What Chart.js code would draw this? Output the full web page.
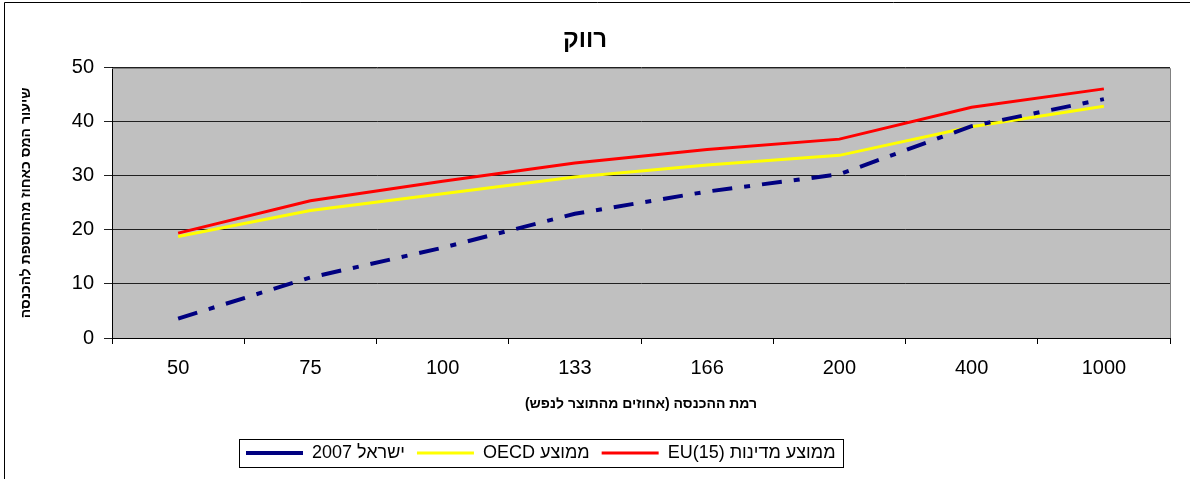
<!DOCTYPE html>
<html>
<head>
<meta charset="utf-8">
<script src="https://cdn.jsdelivr.net/npm/chart.js@4.4.1/dist/chart.umd.min.js"></script>
<style>
  body { margin: 0; background: #fff; }
  #wrap { width: 1190px; height: 479px; }
</style>
</head>
<body>
<div id="wrap"><canvas id="chart" width="1190" height="479"></canvas></div>
<script>
// income levels (% of GDP per capita)
var categories = ['50', '75', '100', '133', '166', '200', '400', '1000'];

var israel2007 = [3.6, 11.2, 16.7, 23.0, 27.1, 30.3, 39.2, 44.2];
var oecdAvg = [18.8, 23.6, 26.7, 29.8, 32.0, 33.8, 39.1, 42.9];
var eu15Avg = [19.4, 25.4, 29.0, 32.4, 34.9, 36.8, 42.7, 46.1];

var seriesNames = ['ישראל 2007', 'ממוצע OECD', 'ממוצע מדינות \u2066EU(15)\u2069'];
var yTicks = [0, 10, 20, 30, 40, 50];

var FONT = "'Liberation Sans', Arial, sans-serif";
var RLM = '\u200F';

var plotBg = {
    id: 'plotBg',
    beforeDraw: function (chart) {
        var a = chart.chartArea, ctx = chart.ctx;
        ctx.save();
        ctx.fillStyle = '#ffffff';
        ctx.fillRect(0, 0, chart.width, chart.height);
        ctx.fillStyle = '#c0c0c0';
        ctx.fillRect(a.left, a.top, a.right - a.left, a.bottom - a.top);
        // outer frame
        ctx.strokeStyle = '#000';
        ctx.lineWidth = 1;
        ctx.beginPath();
        ctx.moveTo(4.5, chart.height);
        ctx.lineTo(4.5, 2.5);
        ctx.lineTo(chart.width, 2.5);
        ctx.stroke();
        ctx.restore();
    },
    afterLayout: function (chart) {
        // move legend to the left like the original
        chart.legend.left = 234;
    },
    afterDraw: function (chart) {
        var a = chart.chartArea, ctx = chart.ctx;
        ctx.save();
        ctx.strokeStyle = '#808080';
        ctx.lineWidth = 1;
        ctx.beginPath();
        ctx.moveTo(a.left, Math.round(a.top) + 0.5);
        ctx.lineTo(Math.round(a.right) + 0.5, Math.round(a.top) + 0.5);
        ctx.lineTo(Math.round(a.right) + 0.5, a.bottom);
        ctx.stroke();
        // legend frame
        var lg = chart.legend;
        var pad = lg.options.labels.padding;
        var x0 = lg.left + pad - 7;
        var x1 = lg.left + lg.lineWidths[0] + 8;
        var cy = lg.top + pad + 9;
        ctx.strokeStyle = '#000';
        ctx.strokeRect(Math.round(x0) + 0.5, Math.round(cy - 14) + 0.5, Math.round(x1 - x0), 28);
        ctx.restore();
    }
};

new Chart(document.getElementById('chart'), {
    type: 'line',
    data: {
        labels: categories,
        datasets: [{
            label: seriesNames[0],
            data: israel2007,
            borderColor: '#000080',
            backgroundColor: '#000080',
            borderWidth: 4,
            borderDash: [20, 12, 6, 12],
            pointRadius: 0,
            fill: false
        }, {
            label: seriesNames[1],
            data: oecdAvg,
            borderColor: '#ffff00',
            backgroundColor: '#ffff00',
            borderWidth: 3,
            pointRadius: 0,
            fill: false
        }, {
            label: seriesNames[2],
            data: eu15Avg,
            borderColor: '#ff0000',
            backgroundColor: '#ff0000',
            borderWidth: 3,
            pointRadius: 0,
            fill: false
        }]
    },
    options: {
        responsive: false,
        animation: false,
        layout: { padding: { top: 0, left: 0, right: 20, bottom: 7 } },
        plugins: {
            title: {
                display: true,
                text: 'רווק',
                color: '#000',
                font: { family: FONT, size: 24, weight: 'bold' },
                padding: { top: 26, bottom: 13 }
            },
            legend: {
                position: 'bottom',
                align: 'start',
                textDirection: 'rtl',
                labels: {
                    color: '#000',
                    font: { family: FONT, size: 18 },
                    usePointStyle: true,
                    pointStyle: 'line',
                    pointStyleWidth: 57,
                    padding: 12
                }
            },
            tooltip: { enabled: false }
        },
        scales: {
            x: {
                offset: true,
                afterFit: function (s) { s.height = 94; },
                grid: {
                    offset: true,
                    drawOnChartArea: false,
                    drawTicks: true,
                    tickLength: 6,
                    color: '#000'
                },
                border: { color: '#000', width: 1 },
                ticks: {
                    color: '#000',
                    font: { family: FONT, size: 20 },
                    padding: 12,
                    maxRotation: 0
                },
                title: {
                    display: true,
                    text: RLM + 'רמת ההכנסה (אחוזים מהתוצר לנפש)' + RLM,
                    color: '#000',
                    font: { family: FONT, size: 14, weight: 'bold' },
                    padding: { top: 0, bottom: 19 }
                }
            },
            y: {
                min: yTicks[0],
                max: yTicks[yTicks.length - 1],
                afterFit: function (s) { s.width = 112; },
                afterBuildTicks: function (s) {
                    s.ticks = yTicks.map(function (v) { return { value: v }; });
                },
                grid: {
                    color: '#202020',
                    lineWidth: 1,
                    tickLength: 8,
                    drawTicks: true
                },
                border: { color: '#000', width: 1 },
                ticks: {
                    color: '#000',
                    font: { family: FONT, size: 20 },
                    padding: 10
                },
                title: {
                    display: true,
                    text: 'שיעור המס כאחוז מהתוספת להכנסה',
                    color: '#000',
                    font: { family: FONT, size: 14, weight: 'bold' },
                    padding: { top: 18, bottom: 0 }
                }
            }
        }
    },
    plugins: [plotBg]
});
</script>
</body>
</html>
